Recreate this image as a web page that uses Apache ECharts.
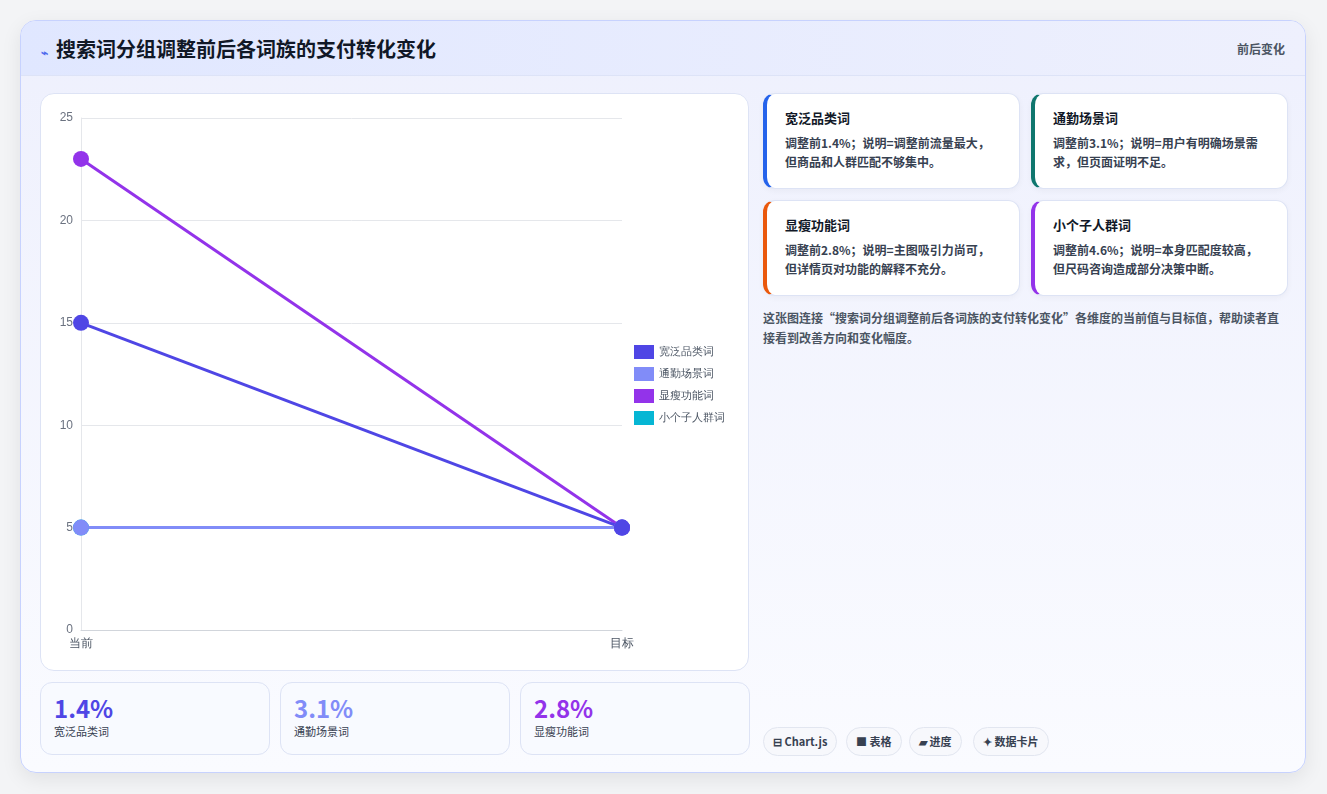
<!DOCTYPE html><html><head><meta charset="utf-8">
<script src="https://cdn.jsdelivr.net/npm/echarts@6/dist/echarts.min.js"></script>
<style>
*{box-sizing:border-box}body{margin:0;width:1327px;height:794px;background:#f3f4f6;font-family:"Noto Sans CJK SC","Noto Sans",sans-serif;overflow:hidden}
.card{position:absolute;left:20px;top:20px;width:1286px;height:753px;border:1px solid #c7d2fe;border-radius:16px;background:linear-gradient(180deg,#eef0fd,#fafbff);box-shadow:0 6px 20px rgba(0,0,0,.08);overflow:hidden}
.hdr{position:absolute;left:0;top:0;right:0;height:55px;background:linear-gradient(90deg,#e0e7ff,#eef0fd);border-bottom:1px solid #dde3f7}
.hdr h1{position:absolute;left:20px;top:13px;margin:0;font-size:20px;font-weight:700;color:#111827}
.hdr h1 span{color:#4f6bed;font-size:12px;margin-right:8px}
.hdr .r{position:absolute;right:20px;top:19px;font-size:12px;color:#4b5563;font-weight:700}
.panel{position:absolute;background:#fff;border:1px solid #dde3f5;border-radius:14px}
.note{position:absolute;background:#fff;border-radius:12px;border:1px solid #dde3f5;width:257px;height:96px;padding:14px 20px 0 18px;box-shadow:0 2px 6px rgba(0,0,0,.04)}
.note b{display:block;font-size:13px;color:#111827;margin-bottom:6px}
.note p{margin:0;font-size:12px;line-height:19px;color:#374151;font-weight:700}
.kpi{position:absolute;top:661px;width:230px;height:73px;border:1px solid #dde3f5;border-radius:12px;background:#f8faff;padding:10px 13px}
.kpi .v{font-size:24px;font-weight:700;line-height:30px}.kpi .l{font-size:11px;color:#374151}
.chip{position:absolute;top:706px;height:29px;border:1px solid #e2e6f0;border-radius:15px;background:#f7f8fc;font-size:11px;font-weight:700;color:#374151;line-height:27px;padding:0 9px}
</style></head><body>
<div class="card">
<div class="hdr"><h1><span>⌁</span>搜索词分组调整前后各词族的支付转化变化</h1><div class="r">前后变化</div></div>
<div class="panel" style="left:19px;top:72px;width:709px;height:578px"><div id="c" style="width:709px;height:578px"></div></div>
<div class="note" style="left:742px;top:72px;border-left:4px solid #2563eb"><b>宽泛品类词</b><p>调整前1.4%；说明=调整前流量最大，但商品和人群匹配不够集中。</p></div>
<div class="note" style="left:1010px;top:72px;border-left:4px solid #0f766e"><b>通勤场景词</b><p>调整前3.1%；说明=用户有明确场景需求，但页面证明不足。</p></div>
<div class="note" style="left:742px;top:179px;border-left:4px solid #ea580c"><b>显瘦功能词</b><p>调整前2.8%；说明=主图吸引力尚可，但详情页对功能的解释不充分。</p></div>
<div class="note" style="left:1010px;top:179px;border-left:4px solid #9333ea"><b>小个子人群词</b><p>调整前4.6%；说明=本身匹配度较高，但尺码咨询造成部分决策中断。</p></div>
<div style="position:absolute;left:742px;top:287px;width:520px;font-size:12px;line-height:20px;color:#4b5563;font-weight:700">这张图连接“搜索词分组调整前后各词族的支付转化变化”各维度的当前值与目标值，帮助读者直接看到改善方向和变化幅度。</div>
<div class="kpi" style="left:19px"><div class="v" style="color:#4f46e5">1.4%</div><div class="l">宽泛品类词</div></div>
<div class="kpi" style="left:259px"><div class="v" style="color:#818cf8">3.1%</div><div class="l">通勤场景词</div></div>
<div class="kpi" style="left:499px"><div class="v" style="color:#9333ea">2.8%</div><div class="l">显瘦功能词</div></div>
<div class="chip" style="left:742px">⊟ Chart.js</div>
<div class="chip" style="left:825px">■ 表格</div>
<div class="chip" style="left:888px">▰ 进度</div>
<div class="chip" style="left:952px">✦ 数据卡片</div>
</div>
<script>
const categories=['当前','目标'];
const seriesNames=['宽泛品类词','通勤场景词','显瘦功能词','小个子人群词'];
const colors=['#4f46e5','#818cf8','#9333ea','#06b6d4'];
const vals1=[15,5];
const vals2=[5,5];
const vals3=[23,5];
const vals4=[5,5];
const yTicks={min:0,max:25,interval:5};
const all=[vals1,vals2,vals3,vals4];
const ch=echarts.init(document.getElementById('c'));
const order=[3,1,2,0];
ch.setOption({animation:false,
grid:{left:40,right:128,top:24,bottom:42},
legend:{orient:'vertical',left:588,top:246,itemWidth:20,itemHeight:14,itemGap:8,icon:'rect',textStyle:{color:'#4b5563',fontSize:11},data:seriesNames},
xAxis:{type:'category',boundaryGap:false,data:categories,axisLine:{lineStyle:{color:'#d1d5db'}},axisTick:{show:false},axisLabel:{color:'#4b5563',fontSize:12}},
yAxis:{type:'value',min:yTicks.min,max:yTicks.max,interval:yTicks.interval,axisLabel:{color:'#6b7280',fontSize:12},splitLine:{lineStyle:{color:'#e5e7eb'}},axisLine:{show:true,lineStyle:{color:'#e5e7eb'}}},
series:order.map(i=>({name:seriesNames[i],type:'line',data:all[i],color:colors[i],symbol:'circle',symbolSize:16,lineStyle:{width:3}}))});
</script></body></html>
